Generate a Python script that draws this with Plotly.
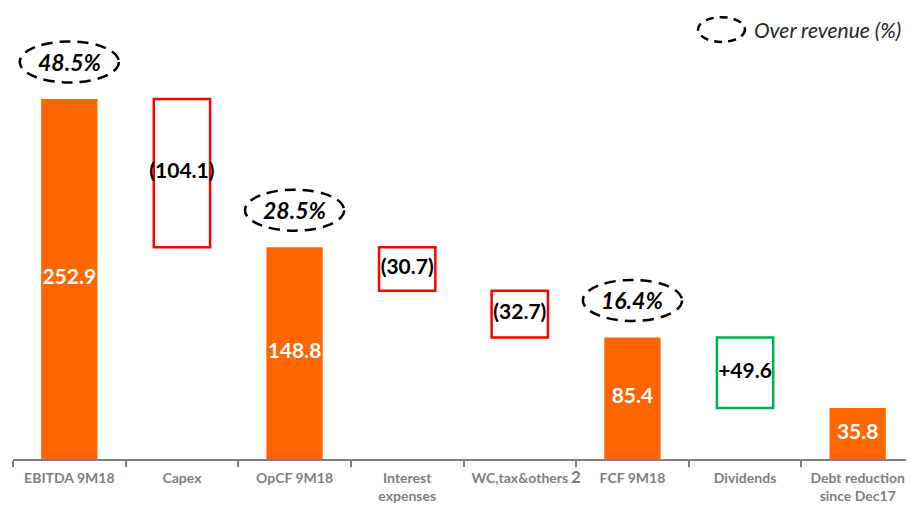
import plotly.graph_objects as go

categories = ["EBITDA 9M18", "Capex", "OpCF 9M18", "Interest<br>expenses",
              "WC,tax&others", "FCF 9M18", "Dividends", "Debt reduction<br>since Dec17"]
kinds = ["total", "delta", "total", "delta", "delta", "total", "delta", "total"]
changes = [252.9, -104.1, 148.8, -30.7, -32.7, 85.4, -49.6, 35.8]
labels = ["252.9", "(104.1)", "148.8", "(30.7)", "(32.7)", "85.4", "+49.6", "35.8"]
box_colors = [None, "#FF0000", None, "#FF0000", "#FF0000", None, "#00B050", None]
margin_idx = [0, 2, 5]
margin_txt = ["48.5%", "28.5%", "16.4%"]

ORANGE = "#FF6600"
GRAY = "#7F7F7F"
FONT = "Lato"

bases, heights, mids = [], [], []
running = 0.0
for k, c in zip(kinds, changes):
    if k == "total":
        b, h = 0.0, c
        running = c
    else:
        b, h = (running + c, -c) if c < 0 else (running, c)
        running += c
    bases.append(b)
    heights.append(h)
    mids.append(b + h / 2)

fill = [ORANGE if k == "total" else "white" for k in kinds]
lcol = [ORANGE if k == "total" else bc for k, bc in zip(kinds, box_colors)]
lw = [0 if k == "total" else 2.5 for k in kinds]
tcol = ["white" if k == "total" else "black" for k in kinds]

fig = go.Figure()
fig.add_trace(go.Bar(
    x=categories, y=heights, base=bases, width=0.5,
    marker=dict(color=fill, line=dict(color=lcol, width=lw)),
    hoverinfo="skip", showlegend=False,
))
fig.add_trace(go.Scatter(
    x=categories, y=mids, mode="text", text=labels,
    textfont=dict(family=FONT, size=21, color=tcol, weight="bold"),
    hoverinfo="skip", showlegend=False, cliponaxis=False,
))

for i, t in zip(margin_idx, margin_txt):
    top = bases[i] + heights[i]
    cy = top + 26
    fig.add_shape(type="circle", xref="x", yref="y",
                  x0=i - 0.44, x1=i + 0.44, y0=cy - 14.4, y1=cy + 14.4,
                  line=dict(color="black", width=2.5, dash="11px,7px"))
    fig.add_annotation(x=i, y=cy, xref="x", yref="y", text=t, showarrow=False,
                       font=dict(family=FONT, size=23, color="black", weight="bold",
                                 style="italic"))

# legend
fig.add_shape(type="circle", xref="paper", yref="paper",
              x0=0.7603, x1=0.8124, y0=0.929, y1=0.984,
              line=dict(color="black", width=2.5, dash="8px,6px"))
fig.add_annotation(x=0.820, y=0.957, xref="paper", yref="paper",
                   text="Over revenue (%)", showarrow=False, xanchor="left",
                   yanchor="middle",
                   font=dict(family=FONT, size=21, color="#262626", style="italic"))

# footnote marker
fig.add_annotation(x=4.5, y=-0.038, xref="x", yref="paper", text="2", showarrow=False,
                   xanchor="center", yanchor="middle",
                   font=dict(family=FONT, size=17, color=GRAY, weight="bold"))

fig.update_layout(
    width=906, height=498,
    margin=dict(l=5, r=0, t=2, b=47),
    plot_bgcolor="white", paper_bgcolor="white",
    xaxis=dict(
        type="category", range=[-0.5, 7.5], automargin=False,
        showline=True, linecolor=GRAY, linewidth=2,
        ticks="outside", tickson="boundaries", ticklen=6, tickcolor=GRAY, tickwidth=2,
        ticklabelstandoff=5,
        tickfont=dict(family=FONT, size=14, color=GRAY, weight="bold"),
        showgrid=False, zeroline=False,
    ),
    yaxis=dict(range=[0, 315.4], visible=False, automargin=False,
               showgrid=False, zeroline=False),
)

fig.write_html("out.html")
